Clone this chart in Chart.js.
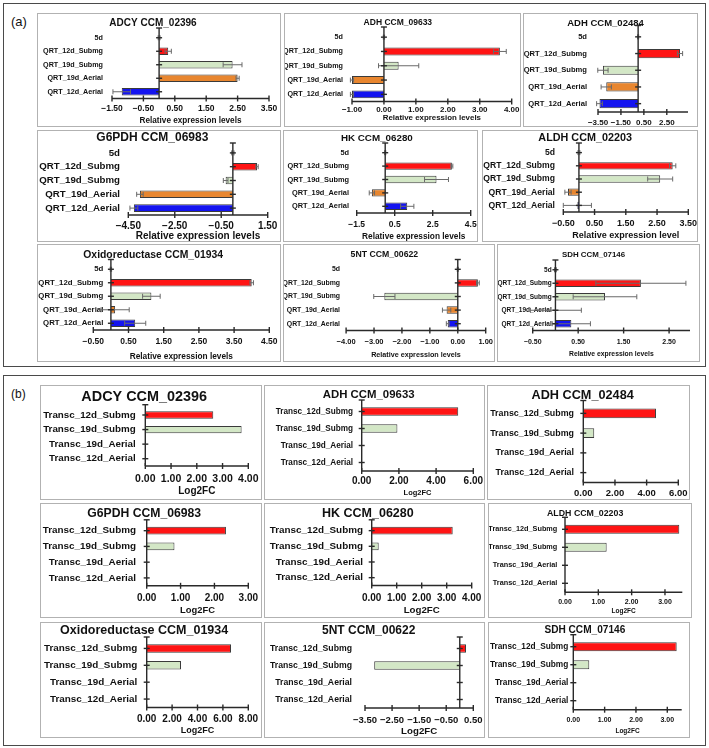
<!DOCTYPE html>
<html>
<head>
<meta charset="utf-8">
<script src="https://cdn.jsdelivr.net/npm/chart.js@4.4.1/dist/chart.umd.min.js"></script>
<style>
  body { margin: 0; background: #fff; width: 709px; height: 748px; position: relative; overflow: hidden;
         font-family: 'Liberation Sans', Arial, sans-serif; color: #111; }
  .outer { position: absolute; border: 1.5px solid #4a4a4a; box-sizing: border-box; }
  .box { position: absolute; border: 1px solid #b2b2b2; box-sizing: border-box; pointer-events: none; }
  canvas { position: absolute; }
  .tag { position: absolute; font-size: 13px; }
</style>
</head>
<body>
<div class="outer" style="left:3px;top:3px;width:703px;height:364px"></div>
<div class="outer" style="left:3px;top:375px;width:703px;height:371px"></div>
<div class="tag" style="left:11px;top:14px">(a)</div>
<div class="tag" style="left:11px;top:387px;font-size:12px">(b)</div>

<script>
// categories
const qrtCategories = ['5d', 'QRT_12d_Submg', 'QRT_19d_Submg', 'QRT_19d_Aerial', 'QRT_12d_Aerial'];
const transcCategories = ['Transc_12d_Submg', 'Transc_19d_Submg', 'Transc_19d_Aerial', 'Transc_12d_Aerial'];

// (a) relative expression levels (qRT-PCR) with error
const adcyQrt = [0, 0.29, 2.34, 2.5, -1.19];
const adcyQrtErr = [0.03, 0.1, 0.3, 0.05, 0.28];
const adcyQrtTicks = [-1.5, -0.5, 0.5, 1.5, 2.5, 3.5];

const adh09633Qrt = [0, 3.63, 0.46, -1.0, -1.0];
const adh09633QrtErr = [0.02, 0.2, 0.63, 0.05, 0.05];
const adh09633QrtTicks = [-1, 0, 1, 2, 3, 4];

const adh02484Qrt = [0, 3.65, -3.07, -2.78, -3.37];
const adh02484QrtErr = [0.05, 0.23, 0.45, 0.45, 0.25];
const adh02484QrtTicks = [-3.5, -1.5, 0.5, 2.5];

const g6pdhQrt = [0, 1.04, -0.31, -4.0, -4.26];
const g6pdhQrtErr = [0.05, 0.05, 0.1, 0.14, 0.17];
const g6pdhQrtTicks = [-4.5, -2.5, -0.5, 1.5];

const hkQrt = [0, 3.51, 2.7, -0.7, 1.16];
const hkQrtErr = [0.03, 0.05, 0.63, 0.14, 0.35];
const hkQrtTicks = [-1.5, 0.5, 2.5, 4.5];

const aldhQrt = [0, 3.0, 2.6, -0.35, -0.05];
const aldhQrtErr = [0.03, 0.1, 0.4, 0.1, 0.45];
const aldhQrtTicks = [-0.5, 0.5, 1.5, 2.5, 3.5];

const oxidoQrt = [0, 4.0, 1.15, 0.12, 0.69];
const oxidoQrtErr = [0.02, 0.05, 0.25, 0.4, 0.3];
const oxidoQrtTicks = [-0.5, 0.5, 1.5, 2.5, 3.5, 4.5];

const ntQrt = [0, 0.72, -2.63, -0.4, -0.36];
const ntQrtErr = [0.02, 0.05, 0.38, 0.15, 0.05];
const ntQrtTicks = [-4, -3, -2, -1, 0, 1];

const sdhQrt = [0, 1.88, 1.09, 0.01, 0.35];
const sdhQrtErr = [0.02, 0.99, 0.7, 0.56, 0.42];
const sdhQrtTicks = [-0.5, 0.5, 1.5, 2.5];

// (b) transcriptome Log2FC
const adcyLog2fc = [2.64, 3.74, 0, 0];
const adcyLog2fcTicks = [0, 1, 2, 3, 4];
const adh09633Log2fc = [5.19, 1.92, 0, 0];
const adh09633Log2fcTicks = [0, 2, 4, 6];
const adh02484Log2fc = [4.59, 0.69, 0, 0];
const adh02484Log2fcTicks = [0, 2, 4, 6];
const g6pdhLog2fc = [2.34, 0.82, 0, 0];
const g6pdhLog2fcTicks = [0, 1, 2, 3];
const hkLog2fc = [3.24, 0.28, 0, 0];
const hkLog2fcTicks = [0, 1, 2, 3, 4];
const aldhLog2fc = [3.43, 1.25, 0, 0];
const aldhLog2fcTicks = [0, 1, 2, 3];
const oxidoLog2fc = [6.64, 2.7, 0, 0];
const oxidoLog2fcTicks = [0, 2, 4, 6, 8];
const ntLog2fc = [0.23, -3.16, 0, 0];
const ntLog2fcTicks = [-3.5, -2.5, -1.5, -0.5, 0.5];
const sdhLog2fc = [3.3, 0.51, 0, 0];
const sdhLog2fcTicks = [0, 1, 2, 3];

const qrtColors = ['rgba(0,0,0,0)', '#ff1414', '#d3e7c6', '#e8862f', '#1414f0'];
const transcColors = ['#ff1414', '#d3e7c6', '#e8862f', '#1414f0'];

const REL = 'Relative expression levels';

// box: frame in page px; xr/yr: plot area in page px; f: [title, category, tick, axis-title] font sizes
const panels = [
  { title: 'ADCY CCM_02396', labels: qrtCategories, values: adcyQrt, errs: adcyQrtErr, ticks: adcyQrtTicks, min: -1.5, max: 3.5,
    box: [37, 13, 281, 127], xr: [112, 269], yr: [31, 98.5], titleY: 23, tickY: 109, xTitle: REL, xTitleY: 120.7, labelRight: 103, f: [10, 7.2, 8.5, 8.2] },
  { title: 'ADH CCM_09633', labels: qrtCategories, values: adh09633Qrt, errs: adh09633QrtErr, ticks: adh09633QrtTicks, min: -1, max: 4,
    box: [284, 13, 521, 127], xr: [352, 511.7], yr: [30, 101.5], titleY: 23, tickY: 110, xTitle: REL, xTitleY: 118.3, labelRight: 343, f: [8.5, 7.2, 8, 7.9] },
  { title: 'ADH CCM_02484', labels: qrtCategories, values: adh02484Qrt, errs: adh02484QrtErr, ticks: adh02484QrtTicks, min: -3.5, max: 4.35,
    box: [523, 13, 698, 127], xr: [598, 688], yr: [28.5, 112], titleY: 23, tickY: 122.5, xTitle: '', labelRight: 587, f: [9.5, 7.6, 8, 8] },
  { title: 'G6PDH CCM_06983', labels: qrtCategories, values: g6pdhQrt, errs: g6pdhQrtErr, ticks: g6pdhQrtTicks, min: -4.5, max: 1.5,
    box: [37, 130, 281, 242], xr: [128.3, 267.7], yr: [146, 215], titleY: 138, tickY: 226, xTitle: REL, xTitleY: 236.7, labelRight: 120, f: [12, 9.7, 10, 10] },
  { title: 'HK CCM_06280', labels: qrtCategories, values: hkQrt, errs: hkQrtErr, ticks: hkQrtTicks, min: -1.5, max: 4.5, dec: 1,
    box: [283, 130, 478, 242], xr: [356.7, 470.7], yr: [146, 213], titleY: 138, tickY: 224.3, xTitle: REL, xTitleY: 236.7, labelRight: 349, f: [9.8, 7.4, 8.5, 8.3] },
  { title: 'ALDH CCM_02203', labels: qrtCategories, values: aldhQrt, errs: aldhQrtErr, ticks: aldhQrtTicks, min: -0.5, max: 3.5,
    box: [482, 130, 698, 242], xr: [563.3, 688.3], yr: [146, 212], titleY: 138, tickY: 223.3, xTitle: 'Relative expression level', xTitleY: 236, labelRight: 555, f: [10.8, 8.6, 9, 9] },
  { title: 'Oxidoreductase CCM_01934', labels: qrtCategories, values: oxidoQrt, errs: oxidoQrtErr, ticks: oxidoQrtTicks, min: -0.5, max: 4.5,
    box: [37, 244, 281, 362], xr: [93.3, 269.3], yr: [262.5, 330], titleY: 255, tickY: 341.7, xTitle: REL, xTitleY: 356.7, labelRight: 103.3, f: [10.4, 7.8, 8.5, 8.3] },
  { title: '5NT CCM_00622', labels: qrtCategories, values: ntQrt, errs: ntQrtErr, ticks: ntQrtTicks, min: -4, max: 1,
    box: [283, 244, 495, 362], xr: [346.1, 485.7], yr: [262.5, 330.5], titleY: 255, tickY: 341.7, xTitle: REL, xTitleY: 355, labelRight: 340, f: [8.7, 6.9, 7.5, 7.2] },
  { title: 'SDH CCM_07146', labels: qrtCategories, values: sdhQrt, errs: sdhQrtErr, ticks: sdhQrtTicks, min: -0.5, max: 2.96,
    box: [497, 244, 700, 362], xr: [532.7, 690], yr: [263, 330.5], titleY: 255, tickY: 341.7, xTitle: REL, xTitleY: 354, labelRight: 551.7, f: [7.9, 6.5, 7, 6.8] },

  { title: 'ADCY CCM_02396', labels: transcCategories, values: adcyLog2fc, ticks: adcyLog2fcTicks, min: 0, max: 4,
    box: [40, 385, 262, 500], xr: [145.3, 248.3], yr: [407.7, 466], titleY: 396.7, tickY: 479.3, xTitle: 'Log2FC', xTitleY: 491.7, labelRight: 135.7, f: [14.4, 9.8, 10.5, 10] },
  { title: 'ADH CCM_09633', labels: transcCategories, values: adh09633Log2fc, ticks: adh09633Log2fcTicks, min: 0, max: 6,
    box: [264, 385, 485, 500], xr: [361.7, 473.3], yr: [403, 471], titleY: 395, tickY: 481.7, xTitle: 'Log2FC', xTitleY: 493.3, labelRight: 353, f: [11.4, 8.2, 10, 7.5] },
  { title: 'ADH CCM_02484', labels: transcCategories, values: adh02484Log2fc, ticks: adh02484Log2fcTicks, min: 0, max: 6,
    box: [487, 385, 690, 500], xr: [583.3, 678.3], yr: [403.5, 482.5], titleY: 395, tickY: 493.3, xTitle: '', labelRight: 574, f: [12.7, 8.9, 9.5, 9] },
  { title: 'G6PDH CCM_06983', labels: transcCategories, values: g6pdhLog2fc, ticks: g6pdhLog2fcTicks, min: 0, max: 3,
    box: [40, 503, 262, 618], xr: [146.7, 248.3], yr: [522.8, 585.8], titleY: 513.3, tickY: 598.3, xTitle: 'Log2FC', xTitleY: 610.7, labelRight: 136, f: [12.2, 9.9, 10, 9.4] },
  { title: 'HK CCM_06280', labels: transcCategories, values: hkLog2fc, ticks: hkLog2fcTicks, min: 0, max: 4,
    box: [264, 503, 485, 618], xr: [371.7, 471.7], yr: [522.8, 585.5], titleY: 513.3, tickY: 598.7, xTitle: 'Log2FC', xTitleY: 610.7, labelRight: 363, f: [12.5, 9.9, 10, 9.7] },
  { title: 'ALDH CCM_02203', labels: transcCategories, values: aldhLog2fc, ticks: aldhLog2fcTicks, min: 0, max: 3.52,
    box: [488, 503, 692, 618], xr: [565, 682.3], yr: [520.3, 592.3], titleY: 513.3, tickY: 601.7, xTitle: 'Log2FC', xTitleY: 611.7, labelRight: 557.3, f: [8.8, 7.3, 7, 6.5] },
  { title: 'Oxidoreductase CCM_01934', labels: transcCategories, values: oxidoLog2fc, ticks: oxidoLog2fcTicks, min: 0, max: 8,
    box: [40, 622, 262, 738], xr: [146.7, 248.3], yr: [640, 707.5], titleY: 630.7, tickY: 719, xTitle: 'Log2FC', xTitleY: 730.7, labelRight: 137.3, f: [12.5, 9.9, 10, 9] },
  { title: '5NT CCM_00622', labels: transcCategories, values: ntLog2fc, ticks: ntLog2fcTicks, min: -3.5, max: 0.5,
    box: [264, 622, 485, 738], xr: [365, 473.3], yr: [640, 708], titleY: 630.7, tickY: 720, xTitle: 'Log2FC', xTitleY: 731.7, labelRight: 352, f: [12, 8.7, 9.5, 9.7] },
  { title: 'SDH CCM_07146', labels: transcCategories, values: sdhLog2fc, ticks: sdhLog2fcTicks, min: 0, max: 3.46,
    box: [488, 622, 690, 738], xr: [573.3, 681.7], yr: [637.7, 709.7], titleY: 630.7, tickY: 720, xTitle: 'Log2FC', xTitleY: 731.7, labelRight: 568.3, f: [10.1, 8.3, 7, 6.5] }
];

// zero line, axis line with crossing ticks, error bars
const decor = {
  id: 'decor',
  afterLayout(chart, args, opts) {
    // labels that sit next to the zero line reach into the plot: widen the label clip box
    const y = chart.scales.y;
    if (opts.labelRight > y.right) {
      y.right = opts.labelRight + 1;
      y.width = y.right - y.left;
    }
  },
  afterDatasetsDraw(chart, args, opts) {
    const { ctx, chartArea: a, scales: { x, y } } = chart;
    const seg = (x1, y1, x2, y2) => { ctx.beginPath(); ctx.moveTo(x1, y1); ctx.lineTo(x2, y2); ctx.stroke(); };
    const x0 = x.getPixelForValue(0);
    ctx.save();
    if (opts.errs) {
      ctx.strokeStyle = '#6a6a6a';
      ctx.lineWidth = 1;
      const vals = chart.data.datasets[0].data;
      opts.errs.forEach((e, i) => {
        const py = y.getPixelForValue(i);
        const l = x.getPixelForValue(vals[i] - e), r = x.getPixelForValue(vals[i] + e);
        seg(l, py, r, py);
        seg(l, py - 2.5, l, py + 2.5);
        seg(r, py - 2.5, r, py + 2.5);
      });
    }
    ctx.strokeStyle = '#2a2a2a';
    ctx.lineWidth = 1.4;
    seg(a.left, a.bottom, a.right, a.bottom);
    x.ticks.forEach((t, i) => {
      const px = x.getPixelForTick(i);
      seg(px, a.bottom - 3, px, a.bottom + 3);
    });
    seg(x0, a.top - 3, x0, a.bottom);
    seg(x0 - 3, a.top - 3, x0 + 3, a.top - 3);
    chart.data.labels.forEach((l, i) => {
      const py = y.getPixelForValue(i);
      seg(x0 - 3, py, x0 + 3, py);
    });
    ctx.restore();
  }
};

function fmt(v, dec) {
  const s = Math.abs(v).toFixed(dec);
  return v < 0 ? '\u2212' + s : s;
}

function makePanel(p) {
  const [bl, bt, br, bb] = p.box;
  const w = br - bl, h = bb - bt;
  const cv = document.createElement('canvas');
  cv.width = w; cv.height = h;
  cv.style.left = bl + 'px'; cv.style.top = bt + 'px';
  cv.style.width = w + 'px'; cv.style.height = h + 'px';
  document.body.appendChild(cv);
  const frame = document.createElement('div');
  frame.className = 'box';
  frame.style.cssText = `left:${bl}px;top:${bt}px;width:${w}px;height:${h}px`;
  document.body.appendChild(frame);

  const plotLeft = p.xr[0] - bl, plotRight = p.xr[1] - bl;
  const plotTop = p.yr[0] - bt, plotBottom = p.yr[1] - bt;
  const labelRight = p.labelRight - bl;
  const [fT, fC, fK, fX] = p.f;
  const tY = p.titleY - bt;
  const font = size => ({ size, weight: 'bold', lineHeight: 1 });
  const isQrt = p.labels.length === 5;

  new Chart(cv, {
    type: 'bar',
    data: {
      labels: p.labels,
      datasets: [{
        data: p.values,
        backgroundColor: isQrt ? qrtColors : transcColors,
        borderColor: '#3a3a3a',
        borderWidth: 1,
        categoryPercentage: 1,
        barPercentage: isQrt ? 0.55 : 0.5
      }]
    },
    options: {
      indexAxis: 'y',
      responsive: false,
      animation: false,
      devicePixelRatio: 1,
      layout: { padding: { left: 0, top: 0, bottom: 0, right: w - plotRight } },
      plugins: {
        legend: { display: false },
        tooltip: { enabled: false },
        title: {
          display: true,
          text: p.title,
          color: '#111',
          font: font(fT),
          padding: { top: tY - fT / 2, bottom: Math.max(0, plotTop - tY - fT / 2) }
        },
        decor: { errs: p.errs, labelRight: labelRight }
      },
      scales: {
        x: {
          type: 'linear',
          min: p.min,
          max: p.max,
          grid: { display: false, drawTicks: false },
          border: { display: false },
          afterBuildTicks: s => { s.ticks = p.ticks.map(v => ({ value: v })); },
          afterFit: s => { s.height = h - plotBottom; s.paddingLeft = 0; s.paddingRight = 0; },
          ticks: {
            autoSkip: false,
            maxRotation: 0,
            color: '#111',
            font: font(fK),
            padding: (p.tickY - bt) - plotBottom - fK / 2,
            callback: v => fmt(v, p.dec === undefined ? 2 : p.dec)
          },
          title: {
            display: !!p.xTitle,
            text: p.xTitle,
            color: '#111',
            font: font(fX),
            padding: { top: 0, bottom: p.xTitle ? h - (p.xTitleY - bt) - fX / 2 : 0 }
          }
        },
        y: {
          grid: { display: false, drawTicks: false },
          border: { display: false },
          afterFit: s => { s.width = plotLeft; s.paddingTop = 0; s.paddingBottom = 0; },
          ticks: {
            autoSkip: false,
            color: '#111',
            font: font(fC),
            padding: labelRight < plotLeft ? plotLeft - labelRight : 1
          }
        }
      }
    },
    plugins: [decor]
  });
}

panels.forEach(makePanel);
</script>
</body>
</html>
